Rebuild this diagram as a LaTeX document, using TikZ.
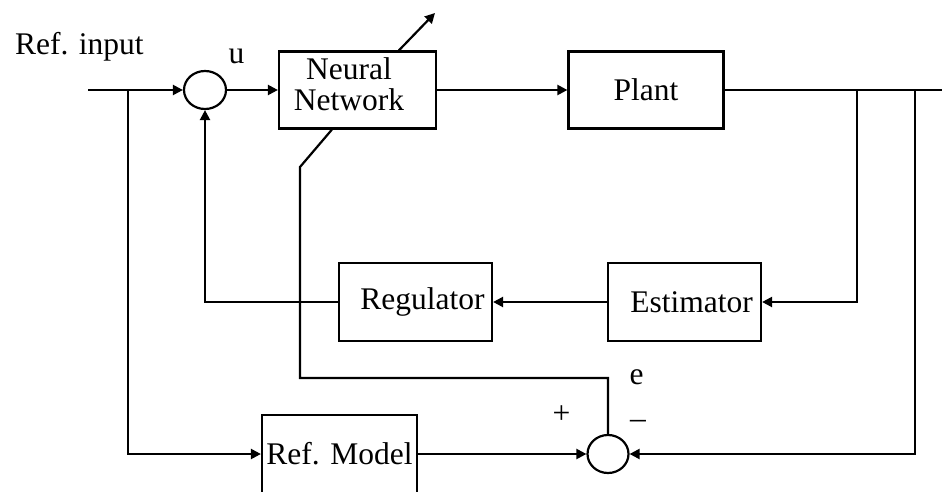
\documentclass[tikz,border=0pt]{standalone}
\usepackage{fontspec}
\setmainfont{Liberation Serif}
\usetikzlibrary{arrows.meta,shapes.geometric}

\begin{document}
\begin{tikzpicture}[
    x={(1pt,0pt)},
    y={(0pt,-1pt)},
    line width=2.2pt,
    font=\fontsize{31.5}{31}\selectfont,
    >={Triangle[length=10pt,width=10pt]},
    block/.style={draw,rectangle,inner sep=0pt,minimum width=155pt,minimum height=77pt},
    summer/.style={draw,ellipse,inner sep=0pt,minimum width=42pt,minimum height=38pt},
    sign/.style={inner sep=0pt}
]
\useasboundingbox (0,0) rectangle (942,492);

\node[block,minimum width=157pt] (nn) at (357.5,90) {};
\node[align=center,inner sep=0pt] (nntext) at (349,84) {Neural\\Network};
\node[block] (plant) at (646,90) {Plant};
\node[block,minimum width=153pt,minimum height=78pt] (reg) at (415.5,302) {\hspace{14pt}Regulator};
\node[block,minimum width=153pt,minimum height=78pt] (est) at (684.5,302) {\hspace{14pt}Estimator};
\node[block,minimum height=78pt] (refm) at (339.5,454) {Ref. Model};
\node[summer] (sum1) at (205,90) {};
\node[summer,minimum width=41pt] (sum2) at (608,454) {};

\node[sign,anchor=base west] (lin) at (14,55) {Ref. input};
\node[sign,anchor=base] (lu) at (236.5,64) {u};
\node[sign,anchor=base] (le) at (636.5,384) {e};
\node[sign] (lplus) at (561.5,415) {+};
\node[sign] (lminus) at (638,424) {--};

\coordinate (start) at (88,90);
\coordinate (split) at (128,90);
\coordinate (tapa) at (857,90);
\coordinate (tapb) at (915,90);
\coordinate (stop) at (942,90);
\coordinate (tip) at (435,13);

\draw[->] (start) -- (sum1.west);
\draw[->] (sum1.east) -- (nn.west);
\draw[->] (nn.east) -- (plant.west);
\draw (plant.east) -- (stop);
\draw[->] (tapa) |- (est.east);
\draw[->] (est.west) -- (reg.east);
\draw[->] (reg.west) -| (sum1.south);
\draw[->] (split) |- (refm.west);
\draw[->] (refm.east) -- (sum2.west);
\draw[->] (tapb) |- (sum2.east);

\draw (sum2.north) |- (300,378) -- (300,167) -- ([xshift=54pt]nn.south west);
\draw[->] ([xshift=121pt]nn.north west) -- (tip);

\end{tikzpicture}
\end{document}
